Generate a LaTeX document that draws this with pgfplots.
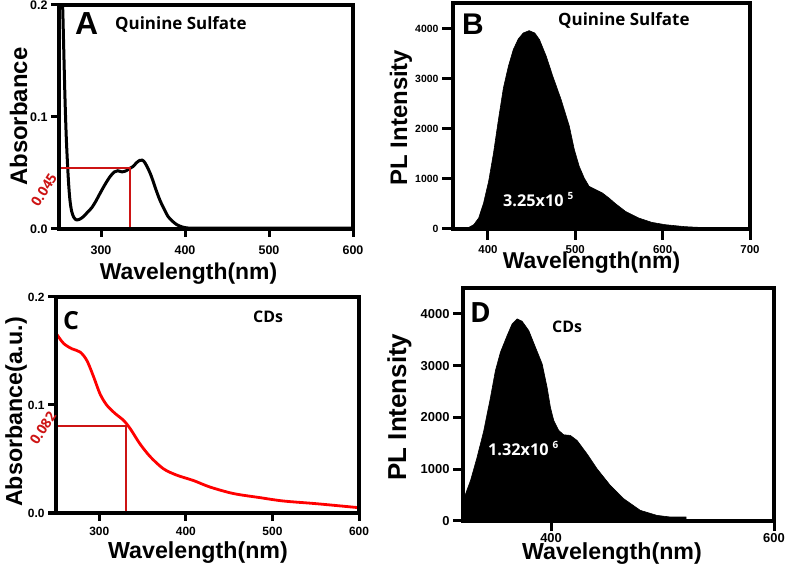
\documentclass[border=0pt]{standalone}
\usepackage{pgfplots}
\pgfplotsset{compat=1.18}
\usepackage{fontspec}
\setmainfont{Liberation Sans}
\newfontfamily\os{Open Sans}
\newcommand{\fs}[1]{\fontsize{#1}{#1}\selectfont}
\definecolor{lred}{RGB}{205,20,20}
\definecolor{cred}{RGB}{255,0,0}
\pgfplotsset{
 every tick/.style={black, line width=3bp},
 panel/.style={
  scale only axis, anchor=south west,
  axis line style={line width=3.2bp, black},
  tick align=outside, tick pos=left,
  tick style={line width=3bp, black},
  major tick style={line width=3bp, black},
  /pgf/number format/assume math mode=true,
  scaled ticks=false,
  /pgf/number format/set thousands separator={},
 }
}
\begin{document}
\begin{tikzpicture}
\path[use as bounding box] (0bp,0bp) rectangle (786bp,583bp);
% ---------- A ----------
\begin{axis}[panel, name=pA, at={(59bp,354bp)}, width=294bp, height=224bp,
  xmin=250, xmax=600, ymin=0, ymax=0.2,
  xtick={300,400,500,600}, ytick={0,0.1,0.2},
  major tick length=8bp,
  ticklabel style={font=\bfseries\fs{12.5}},
  xticklabel style={yshift=-5bp},
  yticklabel style={/pgf/number format/.cd,fixed,fixed zerofill,precision=1}]
\addplot[black, line width=3bp, smooth] coordinates {
(253.5,0.215)(254.5,0.195)(255.5,0.165)(257,0.12)(258.5,0.085)(260,0.06)(261.5,0.04)(263,0.026)(265,0.016)(267.5,0.0105)(270,0.0083)(274,0.0085)(279,0.011)(284,0.015)(289,0.019)(294,0.025)(299,0.032)(305,0.040)(311,0.047)(316,0.051)(320,0.052)(325,0.051)(330,0.052)(334,0.054)(338.5,0.056)(342,0.059)(346,0.0612)(349,0.0615)(352,0.0595)(356,0.054)(360,0.047)(365,0.036)(370,0.026)(375,0.018)(380,0.011)(385,0.007)(390,0.004)(396,0.002)(402,0.001)(410,0.0008)(450,0.0008)(500,0.0008)(550,0.0008)(600,0.0008)};
\addplot[lred, line width=2.4bp] coordinates {(250,0.0547)(334.5,0.0547)(334.5,0)};
\end{axis}
% ---------- B ----------
\begin{axis}[panel, name=pB, at={(453bp,354bp)}, width=297bp, height=226bp,
  xmin=360, xmax=700, ymin=0, ymax=4520,
  xtick={400,500,600,700}, ytick={0,1000,2000,3000,4000},
  major tick length=11bp,
  xticklabel style={font=\bfseries\fs{11.5}, yshift=-2bp},
  yticklabel style={font=\bfseries\fs{10.5}}]
\addplot[fill=black, draw=black, line width=0.6bp] coordinates {
(361,0)(376,13)(383.8,87)(389.4,220)(395,520)(400.8,953)(406.4,1520)(412,2187)(417.7,2820)(423.4,3253)(429,3587)(434.7,3800)(440.4,3920)(447.2,3967)(453.6,3920)(459,3787)(466.8,3453)(474.3,3053)(483.8,2587)(493.2,2053)(498.9,1587)(504.5,1253)(510.2,1020)(515.8,853)(523.4,787)(531,720)(538.5,620)(546,507)(557.4,353)(572.5,220)(587.5,133)(602.6,87)(625.3,47)(655.5,20)(697,7)} \closedcycle;
\end{axis}
% ---------- C ----------
\begin{axis}[panel, name=pC, at={(56bp,70bp)}, width=303bp, height=216bp,
  xmin=250, xmax=600, ymin=0, ymax=0.2,
  xtick={300,400,500,600}, ytick={0,0.1,0.2},
  major tick length=8bp,
  ticklabel style={font=\bfseries\fs{12}},
  xticklabel style={yshift=-3bp},
  yticklabel style={/pgf/number format/.cd,fixed,fixed zerofill,precision=1}]
\addplot[cred, line width=2.8bp, smooth] coordinates {
(250.4,0.166)(258.8,0.157)(268.5,0.152)(278,0.149)(285.8,0.141)(293.5,0.126)(301,0.110)(308.8,0.0997)(318.5,0.092)(328,0.0858)(335.8,0.078)(347,0.064)(359,0.052)(374,0.041)(389.6,0.035)(409,0.030)(428,0.024)(455,0.018)(485.8,0.0142)(512.7,0.0111)(551,0.0086)(600,0.0049)};
\addplot[lred, line width=2.4bp] coordinates {(250,0.0806)(331,0.0806)(331,0)};
\end{axis}
% ---------- D ----------
\begin{axis}[panel, name=pD, at={(463bp,62bp)}, width=311bp, height=233bp,
  xmin=321, xmax=600, ymin=0, ymax=4500,
  xtick={400,600}, ytick={0,1000,2000,3000,4000},
  major tick length=10bp,
  ticklabel style={font=\bfseries\fs{13}},
  xticklabel style={yshift=1bp}]
\addplot[fill=black, draw=black, line width=0.6bp] coordinates {
(321.2,400)(327.8,785)(333.7,1235)(339.7,1750)(345.7,2392)(350.1,2906)(354.6,3260)(360.6,3582)(365.1,3807)(369.6,3903)(374,3858)(380,3678)(386,3356)(392,3035)(396.4,2585)(399.4,2199)(402.4,1942)(406.9,1749)(411.3,1665)(417.3,1653)(423.3,1556)(432.2,1299)(441.2,1010)(453.1,688)(465.1,431)(480,206)(494.9,109)(506.9,77)(521.2,77)} \closedcycle;
\end{axis}
% frames
\draw[line width=3.2bp, line join=miter, line cap=rect] (pA.south west) rectangle (pA.north east);
\draw[line width=3.2bp, line join=miter, line cap=rect] (pB.south west) rectangle (pB.north east);
\draw[line width=3.2bp, line join=miter, line cap=rect] (pC.south west) rectangle (pC.north east);
\draw[line width=3.2bp, line join=miter, line cap=rect] (pD.south west) rectangle (pD.north east);
\draw[line width=3.6bp, line cap=rect] (pA.north west) -- (pA.south west) -- (pA.south east);
\draw[line width=3.6bp, line cap=rect] (pB.north west) -- (pB.south west) -- (pB.south east);
\draw[line width=3.6bp, line cap=rect] (pC.north west) -- (pC.south west) -- (pC.south east);
\draw[line width=3.6bp, line cap=rect] (pD.north west) -- (pD.south west) -- (pD.south east);
% ---------- texts ----------
\node[rotate=90, anchor=base, inner sep=0, font=\bfseries\fs{24}] at (27bp,466.3bp) {Absorbance};
\node[anchor=base, inner sep=0, font=\bfseries\fs{23}] at (188.5bp,303bp) {Wavelength(nm)};
\node[rotate=90, anchor=base, inner sep=0, font=\bfseries\fs{24}] at (407bp,465.5bp) {PL Intensity};
\node[anchor=base, inner sep=0, font=\bfseries\fs{23}] at (591.5bp,314bp) {Wavelength(nm)};
\node[rotate=90, anchor=base, inner sep=0, font=\bfseries\fs{23.3}] at (22bp,171bp) {Absorbance(a.u.)};
\node[anchor=base, inner sep=0, font=\bfseries\fs{23.3}] at (198bp,24.5bp) {Wavelength(nm)};
\node[rotate=90, anchor=base, inner sep=0, font=\bfseries\fs{26}] at (406bp,176bp) {PL Intensity};
\node[anchor=base, inner sep=0, font=\bfseries\fs{23.3}] at (612bp,23.5bp) {Wavelength(nm)};
% panel letters
\node[anchor=base west, inner sep=0, font=\bfseries\fs{32}] at (75bp,548bp) {A};
\node[anchor=base west, inner sep=0, font=\bfseries\fs{30}] at (462bp,548bp) {B};
\node[anchor=base west, inner sep=0, font=\os\bfseries\fs{25}] at (63bp,253bp) {C};
\node[anchor=base west, inner sep=0, font=\os\bfseries\fs{28}] at (470bp,260bp) {D};
% annotations
\node[anchor=base west, inner sep=0, font=\os\bfseries\fs{17}] at (115bp,553bp) {Quinine Sulfate};
\node[anchor=base west, inner sep=0, font=\os\bfseries\fs{17}] at (558bp,557.5bp) {Quinine Sulfate};
\node[anchor=base west, inner sep=0, font=\os\bfseries\fs{16}] at (253bp,260bp) {CDs};
\node[anchor=base west, inner sep=0, font=\os\bfseries\fs{16}] at (552bp,250bp) {CDs};
\node[anchor=base west, inner sep=0, font=\os\bfseries\fs{16.3}, text=white] at (503bp,376bp) {3.25x10\hspace{4bp}\raisebox{7bp}{\fs{10}5}};
\node[anchor=base west, inner sep=0, font=\os\bfseries\fs{16.3}, text=white] at (488bp,127bp) {1.32x10\hspace{4bp}\raisebox{7bp}{\fs{10}6}};
\node[rotate=58, inner sep=0, font=\os\bfseries\fs{14}, text=lred] at (44bp,393bp) {0.045};
\node[rotate=57, inner sep=0, font=\os\bfseries\fs{14}, text=lred] at (43bp,155bp) {0.082};
\end{tikzpicture}
\end{document}
